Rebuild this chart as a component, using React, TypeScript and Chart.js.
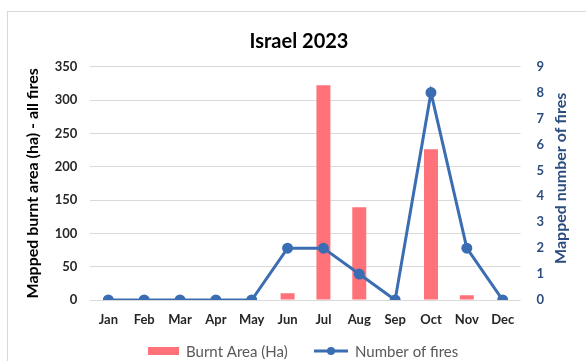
import React, { useEffect, useRef } from "react";
import { Chart, registerables } from "chart.js";

Chart.register(...registerables);

const months = ["Jan", "Feb", "Mar", "Apr", "May", "Jun", "Jul", "Aug", "Sep", "Oct", "Nov", "Dec"];
const burntArea = [0, 0, 0, 0, 0, 10, 322, 139, 0, 226, 7, 0];
const numberOfFires = [0, 0, 0, 0, 0, 2, 2, 1, 0, 8, 2, 0];
const leftTicks = [0, 50, 100, 150, 200, 250, 300, 350];
const rightTicks = [0, 1, 2, 3, 4, 5, 6, 7, 8, 9];

const chartTitle = "Israel 2023";
const leftTitle = "Mapped burnt area (ha) - all fires";
const rightTitle = "Mapped number of fires";
const barLabel = "Burnt Area (Ha)";
const lineLabel = "Number of fires";

const BAR_COLOR = "#FF7279";
const LINE_COLOR = "#3B6DB3";
const RIGHT_COLOR = "#2B4C7E";
const FONT = "Lato";

const overlayPlugin = {
  id: "overlay",
  afterDraw(chart: any) {
    const ctx = chart.ctx;
    const area = chart.chartArea;
    ctx.save();
    // Title
    ctx.fillStyle = "#000000";
    ctx.font = `bold 20px ${FONT}`;
    ctx.textAlign = "center";
    ctx.textBaseline = "middle";
    ctx.fillText(chartTitle, 291, 30);

    // Right axis title (reads bottom to top)
    ctx.save();
    ctx.translate(area.right + 40, (area.top + area.bottom) / 2 - 5);
    ctx.rotate(-Math.PI / 2);
    ctx.fillStyle = RIGHT_COLOR;
    ctx.font = `bold 16px ${FONT}`;
    ctx.textAlign = "center";
    ctx.textBaseline = "middle";
    ctx.fillText(rightTitle, 0, 0);
    ctx.restore();

    // Legend
    const ly = area.bottom + 51;
    ctx.font = `15px ${FONT}`;
    ctx.textAlign = "left";
    ctx.textBaseline = "middle";
    ctx.fillStyle = BAR_COLOR;
    ctx.fillRect(140, ly - 4, 31, 8);
    ctx.fillStyle = "#595959";
    ctx.fillText(barLabel, 178, ly + 1);

    ctx.strokeStyle = LINE_COLOR;
    ctx.lineWidth = 3;
    ctx.beginPath();
    ctx.moveTo(306, ly);
    ctx.lineTo(340, ly);
    ctx.stroke();
    ctx.fillStyle = LINE_COLOR;
    ctx.beginPath();
    ctx.arc(323, ly, 4, 0, Math.PI * 2);
    ctx.fill();
    ctx.fillStyle = "#595959";
    ctx.fillText(lineLabel, 347, ly + 1);
    ctx.restore();
  },
};

export default function App() {
  const ref = useRef<HTMLCanvasElement | null>(null);

  useEffect(() => {
    if (!ref.current) return;
    const chart = new Chart(ref.current, {
      type: "bar",
      data: {
        labels: months,
        datasets: [
          {
            type: "line",
            label: lineLabel,
            data: numberOfFires,
            yAxisID: "y1",
            borderColor: LINE_COLOR,
            backgroundColor: LINE_COLOR,
            borderWidth: 3,
            pointRadius: 4,
            pointBackgroundColor: LINE_COLOR,
            pointBorderColor: LINE_COLOR,
            tension: 0,
            order: 0,
          },
          {
            type: "bar",
            label: barLabel,
            data: burntArea,
            yAxisID: "y",
            backgroundColor: BAR_COLOR,
            barPercentage: 0.39,
            categoryPercentage: 1,
            order: 1,
          },
        ],
      } as any,
      options: {
        responsive: false,
        animation: false,
        layout: { padding: { top: 54.7, left: 0, right: 0, bottom: 0 } },
        plugins: {
          legend: { display: false },
          title: { display: false },
          tooltip: { enabled: false },
        },
        scales: {
          x: {
            grid: { display: false, drawTicks: false },
            border: { display: false },
            ticks: {
              color: "#262626",
              font: { family: FONT, size: 13, weight: "bold" },
              padding: 12,
              maxRotation: 0,
              autoSkip: false,
            },
            afterFit(scale: any) {
              scale.height = 61;
            },
          },
          y: {
            position: "left",
            min: 0,
            max: 350,
            afterBuildTicks(scale: any) {
              scale.ticks = leftTicks.map((v) => ({ value: v }));
            },
            grid: { color: "#D9D9D9", lineWidth: 1, drawTicks: false },
            border: { display: false },
            ticks: {
              color: "#262626",
              font: { family: FONT, size: 13, weight: "bold" },
              padding: 13,
            },
            title: {
              display: true,
              text: leftTitle,
              color: "#000000",
              font: { family: FONT, size: 16, weight: "bold" },
              padding: { top: 15, bottom: 0 },
            },
            afterFit(scale: any) {
              scale.width = 82.4;
            },
          },
          y1: {
            position: "right",
            min: 0,
            max: 9,
            afterBuildTicks(scale: any) {
              scale.ticks = rightTicks.map((v) => ({ value: v }));
            },
            grid: { display: false, drawTicks: false },
            border: { display: false },
            ticks: {
              color: RIGHT_COLOR,
              font: { family: FONT, size: 13, weight: "bold" },
              padding: 16,
            },
            afterFit(scale: any) {
              scale.width = 65.4;
            },
          },
        },
      } as any,
      plugins: [overlayPlugin],
    });
    return () => chart.destroy();
  }, []);

  return (
    <div
      style={{
        position: "absolute",
        left: 7,
        top: 11,
        width: 579,
        height: 350,
        boxSizing: "border-box",
        borderLeft: "1px solid #D9D9D9",
        borderTop: "1px solid #D9D9D9",
        background: "#FFFFFF",
        overflow: "hidden",
      }}
    >
      <canvas ref={ref} width={578} height={349} style={{ display: "block", width: 578, height: 349 }} />
    </div>
  );
}
